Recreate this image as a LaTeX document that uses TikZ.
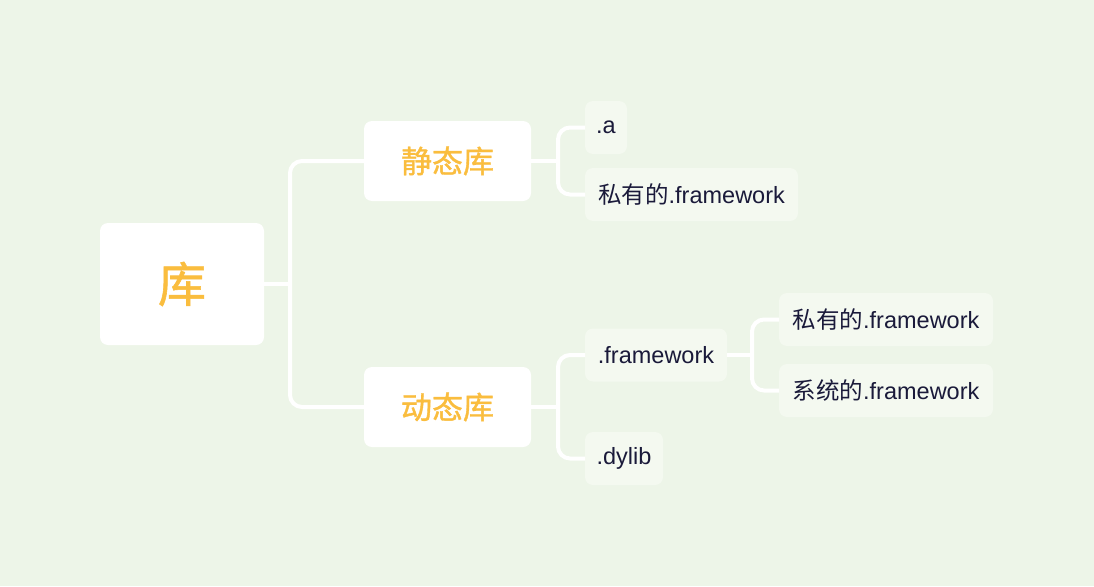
\documentclass[tikz,border=0pt]{standalone}
\usepackage{fontspec}
\setmainfont{Liberation Sans}
\newfontfamily\cjk{Noto Sans CJK SC}
\newfontfamily\cjkmid[FakeBold=1.2]{Noto Sans CJK SC}
\usetikzlibrary{positioning}
\definecolor{mybg}{RGB}{237,245,232}
\definecolor{myleaf}{RGB}{244,249,240}
\definecolor{myorange}{RGB}{250,189,62}
\definecolor{myink}{RGB}{26,26,58}
\tikzset{
libmappic/.style={
  x=1pt,y=-1pt
    ,inner sep=0pt
    ,outer sep=0pt
}
,box/.style={rounded corners=8pt,fill=white,align=center}
,rootbox/.style={box,minimum width=164pt,minimum height=122pt
  ,font={\cjkmid\fontsize{48}{48}\selectfont\color{myorange}}}
,kindbox/.style={box,minimum width=167pt,minimum height=80pt
  ,font={\cjkmid\fontsize{31}{31}\selectfont\color{myorange}}}
,leaf/.style={box,fill=myleaf,minimum height=53pt
  ,font={\fontsize{23.5}{23.5}\selectfont\color{myink}}}
,conn/.style={draw=white,line width=4pt,rounded corners=12pt}
}

\begin{document}
\begin{tikzpicture}[libmappic]
  \fill[mybg] (0,0) rectangle (1094,586);
  % root
  \node[rootbox] (lib) at (182,284) {库};
  % kinds
  \node[kindbox] (static) at (447.5,161) {静态库};
  \node[kindbox] (dynamic) at (447.5,407) {动态库};
  % static leaves
  \node[leaf,minimum width=42pt] (sa) at (606,127.5) {.a};
  \node[leaf,minimum width=213pt] (sfw) at (691.5,194.5) {{\cjk 私有的}.framework};
  % dynamic leaves
  \node[leaf,minimum width=142pt] (dfw) at (656,355) {.framework};
  \node[leaf,minimum width=78pt] (ddylib) at (624,458.5) {.dylib};
  \node[leaf,minimum width=214pt] (dpriv) at (886,319.5) {{\cjk 私有的}.framework};
  \node[leaf,minimum width=214pt] (dsys) at (886,390.5) {{\cjk 系统的}.framework};
  % joints
  \coordinate[right=26pt of lib] (libj);
  \coordinate[right=27pt of static] (staticj);
  \coordinate[right=27pt of dynamic] (dynamicj);
  \coordinate[right=25pt of dfw] (dfwj);
  % connectors
  \draw[conn] (lib.east) -- (libj);
  \draw[conn] (libj) |- (static.west);
  \draw[conn] (libj) |- (dynamic.west);
  \draw[conn] (static.east) -- (staticj);
  \draw[conn] (staticj) |- (sa.west);
  \draw[conn] (staticj) |- (sfw.west);
  \draw[conn] (dynamic.east) -- (dynamicj);
  \draw[conn] (dynamicj) |- (dfw.west);
  \draw[conn] (dynamicj) |- (ddylib.west);
  \draw[conn] (dfw.east) -- (dfwj);
  \draw[conn] (dfwj) |- (dpriv.west);
  \draw[conn] (dfwj) |- (dsys.west);
\end{tikzpicture}
\end{document}
